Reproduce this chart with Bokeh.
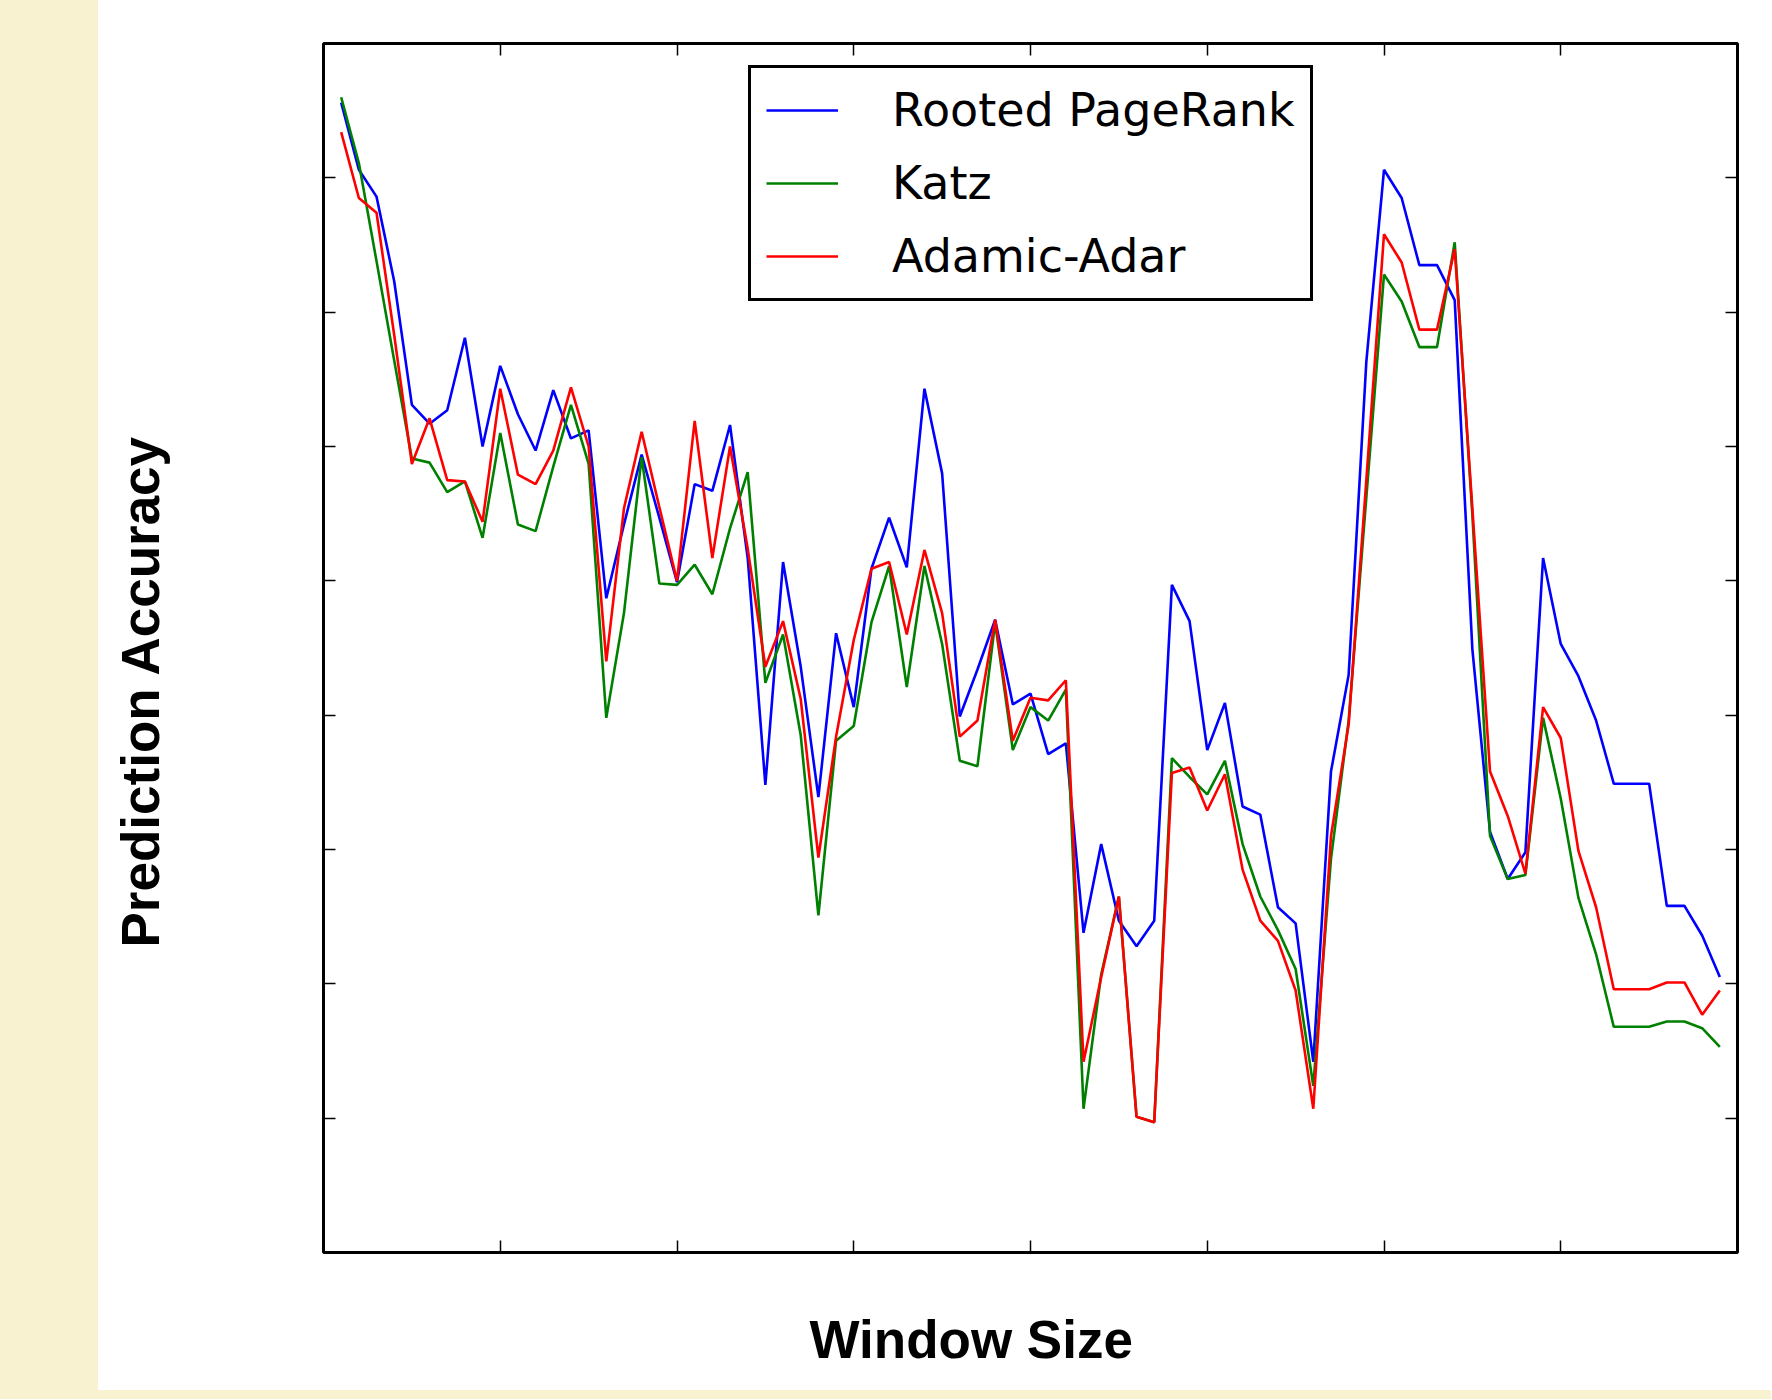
from bokeh.plotting import figure
from bokeh.models import (Range1d, LinearAxis, FixedTicker, CustomJSTickFormatter,
                          Legend, LegendItem, Div, Title)
from bokeh.layouts import row, column
from bokeh.embed import file_html
from bokeh.resources import INLINE

# ---------------- data ----------------
window_size = list(range(1, 80))

rooted_pagerank = [
    0.856, 0.806, 0.786, 0.723, 0.631, 0.617, 0.627, 0.681, 0.600, 0.660,
    0.624, 0.597, 0.642, 0.606, 0.612, 0.487, 0.542, 0.594, 0.547, 0.499,
    0.572, 0.567, 0.616, 0.517, 0.348, 0.514, 0.436, 0.339, 0.461, 0.406,
    0.509, 0.547, 0.510, 0.643, 0.580, 0.399, 0.434, 0.471, 0.408, 0.416,
    0.371, 0.379, 0.238, 0.304, 0.247, 0.228, 0.247, 0.497, 0.470, 0.374,
    0.409, 0.332, 0.326, 0.257, 0.245, 0.142, 0.358, 0.430, 0.663, 0.806,
    0.785, 0.735, 0.735, 0.709, 0.449, 0.313, 0.278, 0.298, 0.517, 0.453,
    0.429, 0.396, 0.349, 0.349, 0.349, 0.258, 0.258, 0.236, 0.205]

katz = [
    0.860, 0.811, 0.738, 0.664, 0.591, 0.588, 0.566, 0.574, 0.532, 0.610,
    0.542, 0.537, 0.585, 0.631, 0.587, 0.398, 0.476, 0.592, 0.498, 0.497,
    0.512, 0.490, 0.539, 0.581, 0.424, 0.460, 0.385, 0.251, 0.381, 0.392,
    0.469, 0.511, 0.421, 0.511, 0.453, 0.366, 0.362, 0.469, 0.374, 0.406,
    0.396, 0.419, 0.107, 0.207, 0.265, 0.101, 0.097, 0.368, 0.354, 0.341,
    0.366, 0.304, 0.265, 0.240, 0.211, 0.124, 0.293, 0.396, 0.562, 0.728,
    0.708, 0.674, 0.674, 0.752, 0.549, 0.310, 0.278, 0.281, 0.398, 0.338,
    0.264, 0.222, 0.168, 0.168, 0.168, 0.172, 0.172, 0.167, 0.153]

adamic_adar = [
    0.834, 0.785, 0.774, 0.683, 0.587, 0.621, 0.575, 0.574, 0.544, 0.643,
    0.579, 0.572, 0.597, 0.644, 0.600, 0.440, 0.554, 0.611, 0.555, 0.500,
    0.619, 0.517, 0.600, 0.524, 0.436, 0.470, 0.412, 0.294, 0.384, 0.456,
    0.509, 0.514, 0.460, 0.523, 0.476, 0.384, 0.396, 0.471, 0.381, 0.413,
    0.411, 0.426, 0.142, 0.205, 0.265, 0.101, 0.097, 0.357, 0.361, 0.329,
    0.356, 0.285, 0.247, 0.232, 0.195, 0.107, 0.310, 0.393, 0.575, 0.758,
    0.737, 0.687, 0.687, 0.747, 0.554, 0.358, 0.325, 0.282, 0.406, 0.383,
    0.299, 0.257, 0.196, 0.196, 0.196, 0.201, 0.201, 0.177, 0.195]

series_names = ["Rooted PageRank", "Katz", "Adamic-Adar"]
series_colors = ["#0000FF", "#008000", "#FF0000"]

x_ticks = [10, 20, 30, 40, 50, 60, 70]
y_ticks = [0.1, 0.2, 0.3, 0.4, 0.5, 0.6, 0.7, 0.8]
x_min, x_max = 0, 80
y_min, y_max = 0.0, 0.9

x_title_text = "Window Size"
y_title_text = "Prediction Accuracy"

BEIGE = "#F8F2D1"

# ---------------- figure ----------------
p = figure(width=1673, height=1390,
           x_range=Range1d(x_min, x_max), y_range=Range1d(y_min, y_max),
           output_backend="svg", toolbar_location=None,
           min_border_left=225, min_border_right=34,
           min_border_top=43, min_border_bottom=138)
p.background_fill_color = "white"
p.border_fill_color = "white"
p.outline_line_color = "black"
p.outline_line_width = 3
p.xgrid.visible = False
p.ygrid.visible = False

bottom_axis = p.below[0]
left_axis = p.left[0]
top_axis = LinearAxis()
right_axis = LinearAxis()
p.add_layout(top_axis, "above")
p.add_layout(right_axis, "right")


def style_axis(ax, ticks):
    ax.ticker = FixedTicker(ticks=ticks, minor_ticks=[])
    ax.formatter = CustomJSTickFormatter(code="return '';")
    ax.major_tick_in = 12
    ax.major_tick_out = 0
    ax.minor_tick_in = 0
    ax.minor_tick_out = 0
    ax.major_tick_line_color = "black"
    ax.major_tick_line_width = 1.5
    ax.axis_line_color = None
    ax.major_label_standoff = 0


style_axis(bottom_axis, x_ticks)
style_axis(top_axis, x_ticks)
style_axis(left_axis, y_ticks)
style_axis(right_axis, y_ticks)


def spacer_axis(size, tick):
    # invisible axis (no drawn line, tick or label) that only reserves room
    # between the frame and the axis title
    return LinearAxis(ticker=FixedTicker(ticks=[tick], minor_ticks=[]),
                      formatter=CustomJSTickFormatter(code="return '';"),
                      major_tick_in=0, major_tick_out=size,
                      minor_tick_in=0, minor_tick_out=0,
                      major_tick_line_color=None, minor_tick_line_color=None,
                      axis_line_color=None, major_label_standoff=0)


p.add_layout(spacer_axis(54, 40), "below")
p.add_layout(spacer_axis(153, 0.45), "left")

renderers = []
for vals, col in zip([rooted_pagerank, katz, adamic_adar], series_colors):
    r = p.line(window_size, vals, line_color=col, line_width=2.6)
    renderers.append(r)

legend = Legend(items=[LegendItem(label=n, renderers=[r])
                       for n, r in zip(series_names, renderers)],
                location=(425, 951))
legend.label_text_font = "DejaVu Sans"
legend.label_text_font_size = "46px"
legend.label_text_color = "black"
legend.glyph_width = 72
legend.glyph_height = 52
legend.label_height = 52
legend.spacing = 19
legend.padding = 15
legend.margin = 0
legend.label_standoff = 54
legend.border_line_color = "black"
legend.border_line_alpha = 1.0
legend.border_line_width = 3
legend.background_fill_color = "white"
legend.background_fill_alpha = 1.0
p.add_layout(legend)

x_title = Title(text=x_title_text, align="left", offset=486, standoff=2,
                vertical_align="bottom",
                text_font="Liberation Sans", text_font_style="bold",
                text_font_size="53px", text_color="black")
y_title = Title(text=y_title_text, align="left", offset=305, standoff=2,
                vertical_align="bottom",
                text_font="Liberation Sans", text_font_style="bold",
                text_font_size="53px", text_color="black")
p.add_layout(x_title, "below")
p.add_layout(y_title, "left")

left_strip = Div(text="", width=98, height=1399, margin=0,
                 styles={"background-color": BEIGE})
bottom_strip = Div(text="", width=1673, height=9, margin=0,
                   styles={"background-color": BEIGE})

layout = row(left_strip, column(p, bottom_strip, spacing=0), spacing=0)

open("out.html", "w").write(file_html(layout, INLINE))
